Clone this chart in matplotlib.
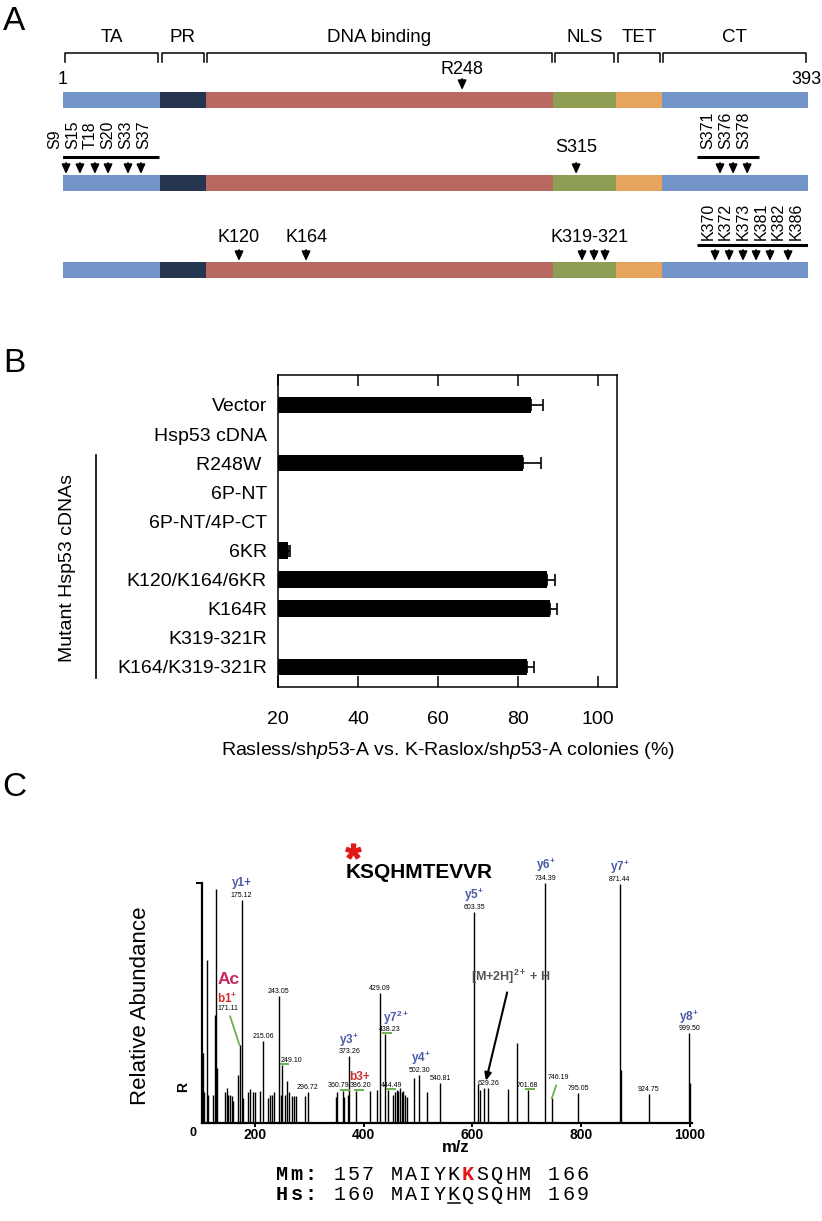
import numpy as np
import matplotlib.pyplot as plt
from matplotlib.lines import Line2D

plt.rcParams['font.family'] = ['Liberation Sans', 'DejaVu Sans']
plt.rcParams['mathtext.fontset'] = 'custom'
plt.rcParams['mathtext.rm'] = 'Liberation Sans'
plt.rcParams['mathtext.it'] = 'Liberation Sans:italic'
plt.rcParams['mathtext.bf'] = 'Liberation Sans:bold'

W, H = 822, 1221

# ---------- A: p53 domain map (schematic residue scale 1..393)
domain_names = ['TA', 'PR', 'DNA binding', 'NLS', 'TET', 'CT']
domain_edges = [1, 52, 76, 259, 292, 316, 393]
domain_colors = ['#7395c9', '#26354f', '#b76962', '#8e9f55', '#e6a45c', '#7395c9']

mut_site = 211
mut_label = 'R248'
phos_nt_sites = [2.6, 9.9, 17.8, 24.7, 35.2, 42.0]
phos_nt_labels = ['S9', 'S15', 'T18', 'S20', 'S33', 'S37']
phos_mid_site = 271
phos_mid_label = 'S315'
phos_ct_sites = [346.7, 353.6, 361.0]
phos_ct_labels = ['S371', 'S376', 'S378']
acet_dbd_sites = [93.6, 128.9]
acet_dbd_labels = ['K120', 'K164']
acet_nls_sites = [274.1, 280.4, 286.2]
acet_nls_label = 'K319-321'
acet_ct_sites = [344.1, 351.5, 358.8, 365.7, 373.0, 382.5]
acet_ct_labels = ['K370', 'K372', 'K373', 'K381', 'K382', 'K386']

# ---------- B: colony assay
b_labels = ['Vector', 'Hsp53 cDNA', 'R248W ', '6P-NT', '6P-NT/4P-CT', '6KR',
            'K120/K164/6KR', 'K164R', 'K319-321R', 'K164/K319-321R']
b_values = [83.1, 0, 81.1, 0, 0, 22.5, 87.1, 87.9, 0, 82.1]
b_errors = [3.2, 0, 4.7, 0, 0, 0.5, 2.1, 1.8, 0, 1.9]

# ---------- C: MS/MS spectrum
peak_mz = [103.3, 105.7, 110.6, 113.6, 121.7, 126.0, 127.8, 130.2, 144.4, 147.5,
           150.4, 153.4, 156.7, 159.7, 168.9, 171.11, 175.12, 178.0, 187.3, 190.4,
           196.5, 199.6, 208.8, 215.06, 224.1, 227.2, 230.4, 234.6, 243.05, 246.9,
           249.10, 254.9, 259.1, 262.2, 267.2, 271.4, 275.1, 291.7, 296.72, 348.8,
           351.2, 360.79, 363.5, 371.4, 373.26, 386.20, 411.4, 423.7, 429.09, 438.23,
           444.49, 454.3, 457.4, 460.5, 463.5, 466.6, 469.7, 472.7, 475.8, 478.9,
           492.4, 502.30, 516.9, 540.81, 603.35, 610.5, 614.0, 621.3, 629.26, 666.1,
           681.5, 701.68, 734.39, 746.19, 795.05, 871.44, 873.0, 924.75, 999.50, 1001.0]
peak_rel = [29, 13, 68, 11.6, 11.6, 45, 97.4, 22.7, 13, 14.3,
            11.6, 11.6, 11, 9, 19.9, 32.4, 92.9, 10.5, 12.6, 14,
            12.6, 12.9, 13.3, 34.2, 10.5, 11.5, 11.6, 12.9, 53, 11.6,
            24, 11.6, 17.4, 12.6, 11, 11, 11, 11.2, 12.6, 10.8,
            12.9, 13.3, 10.8, 11.6, 28, 13.3, 13.3, 13.8, 54.2, 36.9,
            13.8, 11.6, 12.6, 13.8, 13.3, 14.3, 12.6, 13.3, 11.6, 10.8,
            18.5, 19.9, 12.9, 16.4, 88, 16, 13.8, 14.3, 14.3, 13.9,
            33.4, 13.6, 100, 10.2, 12.5, 99.6, 22, 11.8, 37.5, 16.5]
labeled_mz = [171.11, 175.12, 215.06, 243.05, 249.10, 296.72, 360.79, 373.26, 386.20,
              429.09, 438.23, 444.49, 502.30, 540.81, 603.35, 629.26, 701.68, 734.39,
              746.19, 795.05, 871.44, 924.75, 999.50]
ion_mz = [175.12, 373.26, 438.23, 502.30, 603.35, 734.39, 871.44, 999.50, 171.11, 386.20]
ion_text = ['y1+', r'y3$^{\mathbf{+}}$', r'y7$^{\mathbf{2+}}$', r'y4$^{\mathbf{+}}$',
            r'y5$^{\mathbf{+}}$', r'y6$^{\mathbf{+}}$', r'y7$^{\mathbf{+}}$', r'y8$^{\mathbf{+}}$',
            r'b1$^{\mathbf{+}}$', 'b3+']
ion_kind = ['y', 'y', 'y', 'y', 'y', 'y', 'y', 'y', 'b', 'b']
green_mz = [249.10, 360.79, 386.20, 438.23, 444.49, 701.68]
peptide = 'KSQHMTEVVR'

seq_species = ['Mm:', 'Hs:']
seq_start = [157, 160]
seq_peptide = ['MAIYKKSQHM', 'MAIYKQSQHM']
seq_end = [166, 169]
seq_red = [5, None]        # acetylated K (mouse), index in peptide
seq_underline = [None, 4]  # aligned K (human)

BLUE = '#4a5aa6'
RED = '#d0302e'
GREEN = '#6db04f'

fig = plt.figure(figsize=(W / 100, H / 100), dpi=100)


def ftext(x, y, s, **kw):
    return fig.text(x / W, 1 - y / H, s, **kw)


def fline(xs, ys, **kw):
    fig.add_artist(Line2D([x / W for x in xs], [1 - y / H for y in ys],
                          transform=fig.transFigure, **kw))


ftext(14, 21, 'A', fontsize=24, ha='center', va='center')
ftext(14, 364, 'B', fontsize=24, ha='center', va='center')
ftext(14, 787, 'C', fontsize=24, ha='center', va='center')

# ================= panel A
axA = fig.add_axes([63 / W, 1 - 300 / H, 745 / W, 300 / H])
axA.set_xlim(1, 393)
axA.set_ylim(300, 0)
axA.axis('off')
r = 392 / 745.0  # residues per pixel

gap = 1.6 * r
for name, x0, x1 in zip(domain_names, domain_edges[:-1], domain_edges[1:]):
    a, b = x0 + gap, x1 - gap
    axA.plot([a, a, b, b], [62, 53, 53, 62], color='k', lw=1.1)
    axA.text((x0 + x1) / 2, 38, name, ha='center', va='center', fontsize=13.5)

spans = list(zip(domain_edges[:-1], np.diff(domain_edges)))
for y0 in [92, 175, 262]:
    axA.broken_barh(spans, (y0, 16), facecolors=domain_colors)

axA.text(1, 80, '1', ha='center', va='center', fontsize=13)
axA.text(393 + 13 * r, 80, '393', ha='right', va='center', fontsize=13)


def site_arrow(x, tip):
    axA.annotate('', xy=(x, tip), xytext=(x, tip - 11),
                 arrowprops=dict(arrowstyle='-|>,head_length=0.55,head_width=0.25',
                                 color='k', lw=1.3, shrinkA=0, shrinkB=0))


def site_group(sites, labels, tip, base, line_y, shift):
    for s in sites:
        site_arrow(s, tip)
    step = 9.3
    c = np.mean(sites) + shift
    xs = c + step * (np.arange(len(labels)) - (len(labels) - 1) / 2)
    for x, lab in zip(xs, labels):
        axA.text(x, base, lab, rotation=90, ha='center', va='bottom', fontsize=11.5)
    axA.plot([xs[0] - 6, xs[-1] + 8], [line_y, line_y], color='k', lw=2.2,
             solid_capstyle='butt')


site_arrow(mut_site, 90)
axA.text(mut_site, 69, mut_label, ha='center', va='center', fontsize=13)

site_group(phos_nt_sites, phos_nt_labels, 174, 149, 157, -2)
site_group(phos_ct_sites, phos_ct_labels, 174, 149, 157, -4)
site_arrow(phos_mid_site, 174)
axA.text(phos_mid_site, 148, phos_mid_label, ha='center', va='center', fontsize=13)

for s, lab in zip(acet_dbd_sites, acet_dbd_labels):
    site_arrow(s, 261)
    axA.text(s, 238, lab, ha='center', va='center', fontsize=13)
for s in acet_nls_sites:
    site_arrow(s, 261)
axA.text(np.mean(acet_nls_sites) - 2, 238, acet_nls_label, ha='center', va='center', fontsize=13)
site_group(acet_ct_sites, acet_ct_labels, 261, 240, 245, 1)

# ================= panel B
axB = fig.add_axes([278 / W, 1 - 687 / H, 339 / W, 312 / H])
yy = np.arange(len(b_labels))
vals = np.array(b_values)
errs = np.array(b_errors)
axB.barh(yy, vals, height=0.57, color='k')
has = vals > 0
axB.errorbar(vals[has], yy[has], xerr=[np.zeros(has.sum()), errs[has]], fmt='none',
             ecolor='k', elinewidth=1.2, capsize=4, capthick=1.2)
axB.set_xlim(20, 104.7)
axB.set_ylim(len(b_labels) - 1 + 0.69, -1.03)
axB.set_yticks(yy)
axB.set_yticklabels(b_labels, fontsize=14)
axB.tick_params(axis='y', length=0, pad=8)
axB.set_xticks([20, 40, 60, 80, 100])
axB.tick_params(axis='x', direction='in', length=8, width=1.1, top=True,
                labelsize=14, pad=17)
for sp in axB.spines.values():
    sp.set_linewidth(1.1)
axB.set_xlabel(r'Rasless/sh$\mathit{p53}$-A vs. K-Raslox/sh$\mathit{p53}$-A colonies (%)',
               fontsize=14, labelpad=9)

ftext(68, 568, 'Mutant Hsp53 cDNAs', rotation=90, fontsize=14, ha='center', va='center')
fline([96, 96], [455, 678], color='k', lw=1.2)

# ================= panel C
axC = fig.add_axes([201.7 / W, 1 - 1122.7 / H, 490.3 / W, 239.7 / H])
axC.vlines(peak_mz, 0, peak_rel, color='k', lw=1.0)
axC.set_xlim(101.45, 1004.4)
axC.set_ylim(0, 100)
for side in ['top', 'right']:
    axC.spines[side].set_visible(False)
for side in ['left', 'bottom']:
    axC.spines[side].set_linewidth(1.6)
axC.set_xticks([200, 400, 600, 800, 1000])
axC.set_xticklabels(['200', '400', '600', '800', '1000'], fontsize=10, fontweight='bold')
axC.tick_params(axis='x', length=3, width=1.4, pad=1)
axC.set_yticks([100])
axC.set_yticklabels([''])
axC.tick_params(axis='y', length=4, width=1.4)

px = 0.72  # points per pixel
height_of = dict(zip(peak_mz, peak_rel))

num_offsets = {171.11: (-12, 33), 249.10: (10, 1), 360.79: (-4.4, 1.5),
               386.20: (4.4, 1.5), 438.23: (5, 1), 444.49: (3.6, 1), 746.19: (7, 17)}
for mz in labeled_mz:
    dx, dy = num_offsets.get(mz, (0, 1))
    lead = mz in (171.11, 746.19)
    axC.annotate(f'{mz:.2f}', xy=(mz, height_of[mz]), xytext=(dx * px, dy * px),
                 textcoords='offset points', ha='center', va='bottom', fontsize=5,
                 arrowprops=dict(arrowstyle='-', color=GREEN, lw=1.3, shrinkA=1,
                                 shrinkB=0) if lead else None)
for mz in green_mz:
    axC.hlines(height_of[mz] + 0.4, mz - 4, mz + 14, color=GREEN, lw=1.4)

ion_offsets = {175.12: (0, 14), 373.26: (0, 12), 438.23: (11, 12.5), 502.30: (1, 12.5),
               603.35: (0, 12.5), 734.39: (0, 13.5), 871.44: (0, 13), 999.50: (0, 12),
               171.11: (-12, 42), 386.20: (3.4, 10.7)}
for mz, txt, kind in zip(ion_mz, ion_text, ion_kind):
    dx, dy = ion_offsets[mz]
    axC.annotate(txt, xy=(mz, height_of[mz]), xytext=(dx * px, dy * px),
                 textcoords='offset points', ha='center', va='baseline', fontsize=8.5,
                 fontweight='bold', color=BLUE if kind == 'y' else RED)
axC.annotate('Ac', xy=(171.11, height_of[171.11]), xytext=(-11 * px, 61 * px),
             textcoords='offset points', ha='center', va='baseline', fontsize=12.5,
             fontweight='bold', color='#c8285a')

axC.annotate(r'[M+2H]$^{\mathbf{2+}}$ + H', xy=(625, 17.5), xytext=(671, 61),
             ha='center', va='center', fontsize=9, fontweight='bold', color='#555555',
             arrowprops=dict(arrowstyle='-|>,head_length=0.5,head_width=0.22',
                             color='k', lw=1.5, shrinkA=3, shrinkB=0))

ftext(419, 878, peptide, fontsize=15, fontweight='bold', ha='center', va='baseline')
fig.add_artist(Line2D([353.3 / W], [1 - 851 / H], marker=r'$\mathbf{*}$', markersize=11,
                      color='#e01818', linestyle='none', transform=fig.transFigure))
ftext(140, 1006, 'Relative Abundance', rotation=90, fontsize=16, ha='center', va='center')
ftext(183.5, 1087, 'R', rotation=90, fontsize=10, fontweight='bold', ha='center', va='center')
ftext(193.3, 1133, '0', fontsize=9, fontweight='bold', ha='center', va='center')
ftext(456, 1148, 'm/z', fontsize=12, fontweight='bold', ha='center', va='center')

# sequence alignment, one character per column (Courier-like spacing)
mono = ['Liberation Mono', 'DejaVu Sans Mono']
fs = 14.5
adv = 14.3
x0 = 275
for i in range(len(seq_species)):
    row = f'{seq_species[i]} {seq_start[i]} {seq_peptide[i]} {seq_end[i]}'
    yb = 1180 + 20 * i
    pep0 = len(seq_species[i]) + len(str(seq_start[i])) + 2
    for j, ch in enumerate(row):
        if ch == ' ':
            continue
        red = seq_red[i] is not None and j == pep0 + seq_red[i]
        bold = j < len(seq_species[i]) or red
        ftext(x0 + (j + 0.5) * adv, yb, ch, family=mono, fontsize=fs,
              fontweight='bold' if bold else 'normal',
              color='#e01818' if red else 'k', ha='center', va='baseline')
    if seq_underline[i] is not None:
        k = pep0 + seq_underline[i]
        fline([x0 + k * adv + 1, x0 + (k + 1) * adv - 1], [yb + 3, yb + 3], color='k', lw=1.1)

fig.savefig('out.png', dpi=100)
